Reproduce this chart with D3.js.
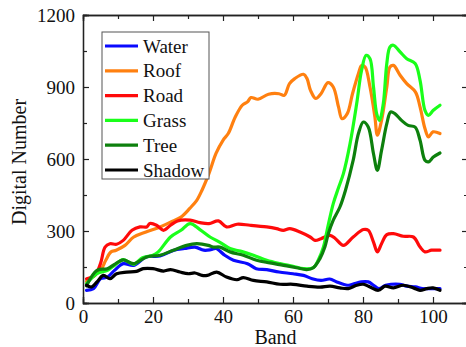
<!DOCTYPE html>
<html>
<head>
<meta charset="utf-8">
<script src="https://cdn.jsdelivr.net/npm/d3@7"></script>
<style>
  body { margin: 0; background: #fff; }
  svg text { font-family: "Liberation Serif", "Times New Roman", serif !important; }
</style>
</head>
<body>
<script>
// spectral curves (band -> digital number)
const seriesNames = ["Water", "Roof", "Road", "Grass", "Tree", "Shadow"];
const seriesColors = ["#0a0aff", "#ff8010", "#ff0a0a", "#1aff1a", "#0d800d", "#000000"];

const waterBand = [1,3,5,7,9,11.5,14.5,18,22,26,29,32,34.5,36.5,38,40.5,43,47,49.5,52.5,56,60,63,65.5,68,70.5,72.5,75.5,77,79.5,81.5,83,84.5,86.5,88,90.5,92.5,95,97,100,102];
const waterValue = [53,60,101,108,136,164,157,192,196,220,227,233,220,222,227,199,178,164,143,139,129,122,115,101,94,100,88,74,78,88,88,74,60,74,78,78,70,67,60,60,60];

const roofBand = [1,3,5,6.5,8,9.5,12,14.5,18,22,25,28,30.5,32.5,34,36,38,40,41.5,43.5,45.5,47,48,50,53,56,57.5,59,60.5,63,64,65,66.5,68,70,71.5,73,74,75.5,77,78.7,79.6,80.6,82,83.4,84.1,85.3,86.8,87.7,88.7,90.6,92.5,95,96.3,97.7,98.7,100,102];
const roofValue = [90,115,136,178,213,220,240,275,296,317,337,358,394,428,470,540,623,678,706,775,824,838,856,849,870,872,865,914,935,953,935,886,852,872,918,900,817,768,789,872,956,990,983,900,775,699,761,900,983,990,949,914,879,817,727,692,713,706];

const roadBand = [1,3.4,5,6.3,7.7,9.6,11.5,14,16.3,18.2,19.1,21,23,25,27,30.6,33.4,36,38.7,41,44,47.7,52.5,55.3,57.2,59.1,62,64.9,66.3,68,70.6,72,74.4,77.2,80.1,81.5,83,84.1,85.3,86.8,88.7,91.5,94.4,96.3,97.7,99.6,102];
const roadValue = [101,115,164,233,247,245,261,303,317,317,331,324,303,324,342,345,335,331,342,317,328,324,317,310,303,310,296,275,261,268,282,270,240,275,306,303,254,213,247,285,289,278,275,233,213,220,220];

const grassBand = [1,4,7,9,11.5,14.5,17,20,21.5,25,28,30.6,33.4,36.3,39,42,45,48.7,52.5,56.3,60,63,65.8,67.2,68.7,69.7,71.5,73,74.4,76.3,78.2,79.6,80.9,82,83,83.9,84.7,85.8,86.8,87.7,88.7,90.6,92.5,94.9,96.3,97.7,98.7,100.1,102];
const grassValue = [80,122,136,157,181,161,189,199,213,275,303,331,306,275,254,227,216,199,178,164,153,143,147,178,233,300,414,480,539,664,831,970,1032,1018,900,789,761,831,998,1067,1074,1046,1018,998,928,803,782,803,824];

const treeBand = [1,4,7,9,11.5,14.4,18.2,22,25.8,29.6,32.5,35.8,37.2,39.1,42,45.8,49.6,53.4,57.3,61,63.9,65.8,67.7,69.1,70.1,71.5,73.4,75,77.2,78.7,80.1,81.5,83,84.1,85.3,86.8,87.9,89.1,91,92.9,94.9,96.3,97.7,98.7,100.1,102];
const treeValue = [72,136,143,161,180,164,192,199,220,240,247,240,233,233,213,199,178,167,157,147,139,147,185,233,289,345,400,470,595,706,754,733,622,553,636,747,796,789,761,740,733,678,595,588,608,625];

const shadowBand = [1,2.5,4,5.8,7.7,9.6,12.5,15.3,17.2,20,23,25,27.7,30,32,34,35.5,38.2,41,44,45.8,48.7,52.5,56.3,60,64,67.7,70.6,73.4,75.8,78.2,80.1,82,84.4,86.3,88.7,91.5,94.4,96.3,98.2,100,102];
const shadowValue = [74,67,88,115,101,122,129,132,143,143,133,139,129,122,125,115,115,129,108,97,106,94,88,78,78,70,66,70,63,60,74,78,67,53,70,63,74,63,53,60,63,53];

const xTicks = [0, 20, 40, 60, 80, 100];
const yTicks = [0, 300, 600, 900, 1200];

const bands = [waterBand, roofBand, roadBand, grassBand, treeBand, shadowBand];
const values = [waterValue, roofValue, roadValue, grassValue, treeValue, shadowValue];

const width = 466, height = 347;
const margin = { left: 83, top: 15, right: -2, bottom: 44 };

const svg = d3.select("body").append("svg")
  .attr("width", width)
  .attr("height", height)
  .style("display", "block");

const x = d3.scaleLinear().domain([0, 110]).range([margin.left, width - margin.right]);
const y = d3.scaleLinear().domain([0, 1200]).range([height - margin.bottom, margin.top]);

// lines first, frame on top
const line = d3.line()
  .x(d => x(d[0]))
  .y(d => y(d[1]))
  .curve(d3.curveCatmullRom.alpha(0.5));

seriesNames.forEach((name, i) => {
  const pts = bands[i].map((b, j) => [b, values[i][j]]);
  svg.append("path")
    .attr("d", line(pts))
    .attr("fill", "none")
    .attr("stroke", seriesColors[i])
    .attr("stroke-width", 3.2)
    .attr("stroke-linejoin", "round")
    .attr("stroke-linecap", "round");
});

// axes with inward ticks (major + minor)
const xMinor = d3.range(10, 111, 20);
const yMinor = d3.range(150, 1200, 300);

const axisB = svg.append("g").attr("transform", `translate(0,${y(0)})`)
  .call(d3.axisBottom(x).tickValues(xTicks).tickSize(-6).tickPadding(7).tickFormat(d3.format("d")));
axisB.append("g").call(d3.axisBottom(x).tickValues(xMinor).tickSize(-4).tickFormat(""));

const axisT = svg.append("g").attr("transform", `translate(0,${y(1200)})`)
  .call(d3.axisTop(x).tickValues(xTicks).tickSize(-6).tickFormat(""));
axisT.append("g").call(d3.axisTop(x).tickValues(xMinor).tickSize(-4).tickFormat(""));

const axisL = svg.append("g").attr("transform", `translate(${x(0)},0)`)
  .call(d3.axisLeft(y).tickValues(yTicks).tickSize(-6).tickPadding(8).tickFormat(d3.format("d")));
axisL.append("g").call(d3.axisLeft(y).tickValues(yMinor).tickSize(-4).tickFormat(""));

const axisR = svg.append("g").attr("transform", `translate(${x(110)},0)`)
  .call(d3.axisRight(y).tickValues(yTicks).tickSize(-6).tickFormat(""));
axisR.append("g").call(d3.axisRight(y).tickValues(yMinor).tickSize(-4).tickFormat(""));

svg.selectAll("g").attr("font-family", null);
svg.selectAll(".domain").attr("stroke", "#222").attr("stroke-width", 1.3);
svg.selectAll(".tick line").attr("stroke", "#222").attr("stroke-width", 1.2);
svg.selectAll(".tick text")
  .attr("font-size", 19)
  .attr("fill", "#111");

// axis titles
svg.append("text")
  .attr("x", (x(0) + x(110)) / 2)
  .attr("y", 344)
  .attr("text-anchor", "middle")
  .attr("font-size", 20)
  .attr("fill", "#111")
  .text("Band");

svg.append("text")
  .attr("transform", `translate(26,${(y(0) + y(1200)) / 2 + 3}) rotate(-90)`)
  .attr("text-anchor", "middle")
  .attr("font-size", 20)
  .attr("fill", "#111")
  .text("Digital Number");

// legend
const legend = svg.append("g").attr("transform", "translate(102,32)");
legend.append("rect")
  .attr("width", 107).attr("height", 147)
  .attr("fill", "#fff")
  .attr("stroke", "#555")
  .attr("stroke-width", 1);

seriesNames.forEach((name, i) => {
  const ly = 14 + i * 24.8;
  legend.append("line")
    .attr("x1", 3).attr("x2", 36)
    .attr("y1", ly).attr("y2", ly)
    .attr("stroke", seriesColors[i])
    .attr("stroke-width", 3.2);
  legend.append("text")
    .attr("x", 41).attr("y", ly + 6.5)
    .attr("font-size", 19)
    .attr("fill", "#111")
    .text(name);
});
</script>
</body>
</html>
